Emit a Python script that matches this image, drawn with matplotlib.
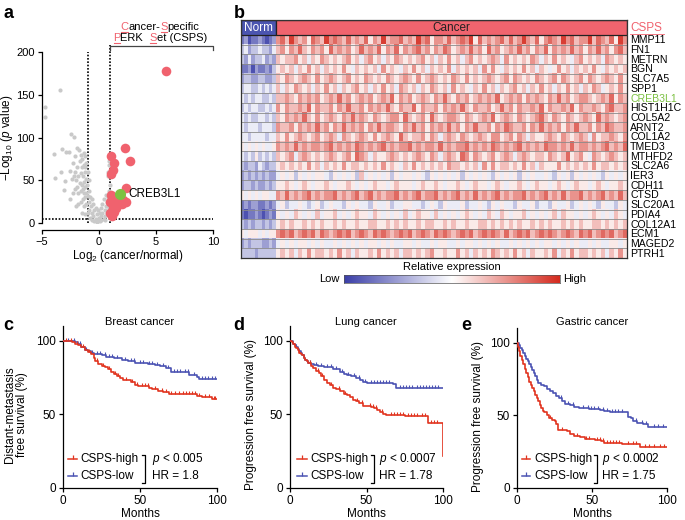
import numpy as np
import matplotlib
matplotlib.use("Agg")
import matplotlib.pyplot as plt
from matplotlib.colors import LinearSegmentedColormap
from matplotlib.lines import Line2D
from matplotlib.patches import Rectangle

plt.rcParams['font.family'] = ['Liberation Sans', 'DejaVu Sans']
plt.rcParams['mathtext.fontset'] = 'custom'
plt.rcParams['mathtext.rm'] = 'Liberation Sans'
plt.rcParams['mathtext.it'] = 'Liberation Sans:italic'
plt.rcParams['font.size'] = 8.5
plt.rcParams['axes.linewidth'] = 0.9
plt.rcParams['xtick.major.size'] = 3
plt.rcParams['ytick.major.size'] = 3
plt.rcParams['xtick.major.width'] = 0.9
plt.rcParams['ytick.major.width'] = 0.9

# ---------------- panel a: volcano ----------------
gray_x = [-4.77, -4.71, -3.42, -3.97, -3.22, -2.87, -2.43, -2.19, -2.6, -3.35, -3.83, -2.95,
          -3.05, -2.57, -2.3, -2.1, -1.9, -1.75, -1.6, -1.45, -1.3, -1.2, -1.15, -1.35, -1.5,
          -1.7, -1.9, -2.1, -2.2, -2.4, -2.0, -1.8, -1.6, -1.4, -1.25, -1.1, -1.3, -1.5, -1.7,
          -1.9, -2.1, -2.3, -1.8, -1.6, -1.4, -1.2, -1.05, -0.9, -1.0, -1.2, -1.4, -1.6, -1.8,
          -2.0, -2.5, -1.3, -1.1, -0.9, -0.8, -0.7, -0.85, -1.0, -1.2, -1.5, -0.6, -0.5, -0.4,
          -0.3, -0.2, -0.1, 0.0, 0.1, -0.6, -0.8, -0.3, -0.5, -0.65, 0.2, 0.3, 0.4, 0.5, 0.6,
          0.7, 0.8, 0.9, 0.7, 0.85, 0.5, 0.3, 0.95, 0.6, 0.4, 0.2, 0.1, -0.1, 1.0, 0.9, -1.1,
          -1.3, -0.9, -1.0, -1.2, 0.8, 0.85, 0.75, 0.9, -0.2, 0.15, -0.45, 0.55]
gray_y = [136, 124, 156, 81, 86, 83, 104, 101, 83, 60, 53, 49,
          39, 61, 70, 78, 88, 85, 80, 75, 82, 78, 70, 68, 65,
          72, 66, 60, 55, 52, 50, 55, 58, 55, 60, 52, 48, 45, 47,
          42, 40, 35, 35, 38, 40, 42, 45, 38, 32, 30, 28, 25, 22,
          20, 28, 20, 22, 25, 30, 20, 15, 12, 10, 12, 12, 8, 15,
          5, 10, 3, 6, 2, 4, 6, 18, 22, 28, 8, 12, 5, 15, 20,
          25, 30, 38, 12, 18, 3, 22, 45, 33, 28, 18, 12, 15, 20, 10, 35,
          35, 50, 60, 65, 60, 68, 55, 72, 1, 4, 2, 8]
red_x = [5.85, 2.25, 2.69, 1.02, 1.29, 1.23, 1.02, 2.34, 1.08, 0.95, 1.38, 1.67, 1.23,
         0.95, 1.23, 2.1, 2.0, 1.5, 1.1, 1.35, 1.8, 2.4]
red_y = [178, 87.5, 73, 78, 70, 61.5, 57.5, 41, 33, 25, 27, 22.5, 17.5,
         11.5, 21.4, 27, 22, 18, 8, 13, 26, 24]
green_x = [1.81]
green_y = [34]

# ---------------- panel b: heatmap ----------------
genes = ['MMP11', 'FN1', 'METRN', 'BGN', 'SLC7A5', 'SPP1', 'CREB3L1', 'HIST1H1C', 'COL5A2',
         'ARNT2', 'COL1A2', 'TMED3', 'MTHFD2', 'SLC2A6', 'IER3', 'CDH11', 'CTSD', 'SLC20A1',
         'PDIA4', 'COL12A1', 'ECM1', 'MAGED2', 'PTRH1']
# levels 0 (low, blue) .. 9 (high, red); one string per gene
norm_levels = ['1201121012', '3423343324', '3242334232', '1120211213', '2332233223',
               '3443343434', '4343443343', '3434433434', '4343344343', '4344434443',
               '4434444344', '5454545445', '4343534343', '3233243233', '2323232322',
               '2332322323', '5454545544', '1212211212', '1011210121', '3232332323',
               '5455545455', '2323332232', '3333233333']
cancer_levels = [
    '7869767587 6978768676 8576967786 7697857768 6787958676 7868679768 5787697867 7968768597',
    '6757686576 7586767568 6768576857 6786757687 5676867586 7567686757 6857676867 5768675786',
    '6566756465 7656567564 6756465765 6567564657 5646756567 6475656576 4657565467 5656476565',
    '5656465756 4656575465 6564756546 5756465657 4656564757 5465657564 6545756465 6575465656',
    '6576567657 5676567565 7656576567 6575676565 7657565676 5675765657 6567576567 5765676575',
    '6465765646 5756465675 6465756476 5646576564 7565465756 4656756465 7564657564 6576456575',
    '6676576767 5676867567 6756768576 7567657686 5767567676 8567675767 6576867567 7656768576',
    '7576676857 6675768667 5767686576 6857667576 7686576675 6867576676 8576676857 6676578667',
    '6576768657 5676576867 6576567758 6567586567 7657656768 5676576567 8657657656 7658676567',
    '7667576768 6757686767 5768677657 6867576768 6757686675 7687667576 8676757686 6757687667',
    '6575676567 5676476567 6575676586 5667576467 6576567657 7567576465 5676576567 6475667657',
    '7676867677 6786767687 6767867677 8676776867 6778676768 7676786767 6877676867 7676786768',
    '6567467656 5676567587 6465567656 5676576467 6587576567 5676467656 6576568567 5476567656',
    '5656565756 4656575665 6565756546 5756565657 6656564757 5665657564 6555756565 6575665656',
    '4545354545 5435454536 4545453545 5454354545 4535454543 5454535454 4543545354 5454354545',
    '5565456545 5654556545 4565545655 5456556545 5654565545 6545565456 5545654565 5456545565',
    '7686767867 6778676786 7867677867 6786778676 7867686767 8676778676 7867686778 6767867686',
    '4534454345 3454435454 4354453445 5443454354 4453445435 4544354453 4435445345 4543544354',
    '5454654546 4556454565 5465454546 4565546454 5456545465 4654556454 5456465545 4565454654',
    '5656556565 6556565565 5665565656 5565665565 6556556656 5656565565 6565565656 5566565656',
    '7878678786 8767878678 7687876787 8678768787 6787867878 7686787867 8787678768 7867878678',
    '4545455454 5445454545 4554545445 5454454554 4545545454 5445454545 4554545454 4545445545',
    '5656465756 6565756465 5657565646 6565675565 5756465657 6565756465 5657465756 6565646575',
]

# ---------------- panels c-e: Kaplan-Meier ----------------
breast_high_t = [0, 4, 6, 8, 10, 12, 14, 16, 18, 20, 21, 23, 25, 27, 29, 31, 33, 35, 37, 39,
                 44, 47, 49, 56, 58, 62, 65, 69, 72, 87, 90, 97, 100]
breast_high_s = [100, 99.5, 99, 98, 97, 95.5, 94, 92.5, 91, 88, 86, 84, 83, 82, 80.5, 79, 77.5,
                 76, 74.5, 73, 72, 70, 69, 68, 67, 66, 65, 64, 63.5, 62.5, 62, 60.5, 60.5]
breast_low_t = [0, 8, 10, 12, 14, 16, 18, 20, 25, 28, 33, 38, 42, 47, 55, 60, 63, 67, 70, 77,
                82, 87, 88, 100]
breast_low_s = [100, 99, 97.5, 96, 94, 93, 92, 91, 90, 89, 88, 87, 86, 85, 84.5, 83.5, 83, 81.5,
                79, 78.5, 77, 75.5, 74, 74]
lung_high_t = [0, 1, 2, 3, 4, 5, 6, 7, 8, 9, 10, 11, 12, 14, 15, 17, 19, 20, 22, 24, 26, 28, 30,
               33, 35, 37, 39, 41, 43, 45, 48, 50, 53, 55, 57, 59, 61, 63, 75, 90, 99.6, 100]
lung_high_s = [100, 99, 97.5, 96, 95, 93.5, 92, 91, 90, 88.5, 87, 86, 85, 83, 81.5, 79.5, 78, 76,
               73, 71.5, 70, 68, 67, 66, 64, 63, 61.5, 60, 59, 57.5, 56, 55.5, 55, 54, 53, 51.5,
               50, 49.5, 49, 44, 44, 22]
lung_low_t = [0, 1, 2, 3, 4, 5, 6, 7, 8, 9, 10, 11, 12, 14, 16, 18, 22, 25, 28, 31, 33, 35, 37,
              40, 43, 46, 48, 50, 52, 67, 69, 100]
lung_low_s = [100, 99.5, 98, 97, 96, 94.5, 93, 91.5, 90, 88.5, 87, 86, 85, 84, 83.5, 83, 82.5,
              82, 81, 80.5, 79, 77.5, 77, 76, 75, 73.5, 72, 71.5, 71, 70.5, 68, 68]
gastric_high_t = [0, 0.5, 1, 2, 3, 4, 5, 6, 7, 8, 9, 10, 11, 12, 13, 14, 15, 16, 17, 18, 20, 21,
                  23, 25, 26, 27, 33, 35, 38, 42, 45, 50, 52, 56, 58, 70, 72, 82, 100]
gastric_high_s = [100, 97, 94, 91, 88, 85, 82, 79, 76, 73, 71, 69, 67, 64, 62, 60, 57, 55, 53, 52,
                  50, 48, 47, 46, 44, 40, 39, 37, 36, 35, 34, 33.5, 33, 32, 31, 30.5, 30, 28, 28]
gastric_low_t = [0, 1, 2, 3, 4, 5, 6, 7, 8, 9, 10, 11, 12, 13, 14, 16, 18, 20, 22, 24, 26, 28, 30,
                 32, 35, 38, 41, 48, 52, 55, 58, 62, 68, 74, 76, 77, 80, 84, 87, 100]
gastric_low_s = [100, 98, 96, 95, 93, 91, 89, 87, 85, 83, 81, 79, 77, 74, 72, 71, 70, 68, 67, 65,
                 63, 62, 60, 58, 57, 56, 55, 54.5, 54, 53.5, 53, 52.5, 52, 49, 48, 46, 45, 44, 42, 42]
breast_high_c = [2, 5, 9, 13, 17, 22, 26, 30, 34, 36, 41, 45, 48, 51, 53, 55, 60, 64, 67, 70, 73,
                 75, 78, 80, 82, 84, 86, 88, 92, 95, 98, 99]
breast_low_c = [3, 7, 11, 15, 19, 22, 24, 27, 30, 32, 35, 40, 44, 46, 50, 52, 56, 58, 61, 65, 68,
                72, 74, 76, 79, 81, 85, 90, 92, 94, 97, 99]
lung_high_c = [3, 6, 13, 18, 21, 27, 32, 36, 44, 47, 52, 54, 56, 60, 66, 68, 70, 72, 74, 77, 79,
               81, 83, 86, 88, 92, 94, 96]
lung_low_c = [4, 9, 13, 17, 20, 24, 27, 30, 34, 38, 42, 45, 49, 53, 55, 57, 59, 61, 63, 65, 72, 74,
              76, 78, 80, 83, 85, 87, 89, 91, 93, 95, 97]
gastric_high_c = [22, 30, 40, 46, 48, 53, 55, 57, 60, 62, 64, 66, 68, 74, 77, 79, 85, 88, 91, 95, 98]
gastric_low_c = [29, 34, 37, 44, 47, 49, 51, 54, 57, 60, 63, 65, 67, 70, 79, 83, 86, 91, 94, 97]

RED = '#e1341f'
BLUE = '#4b53b3'
PINK = '#f0626e'
GREEN = '#7cc142'

W, H = 685, 520
fig = plt.figure(figsize=(W / 100, H / 100), dpi=100)
renderer = fig.canvas.get_renderer()


def rect(l, t, r, b):
    return [l / W, 1 - b / H, (r - l) / W, (b - t) / H]


def fline(xs, ys, **kw):
    fig.add_artist(Line2D([x / W for x in xs], [1 - y / H for y in ys], **kw))


def text_w(s, size):
    t = fig.text(0, 0, s, fontsize=size)
    w = t.get_window_extent(renderer).width
    t.remove()
    return w


def rich_line(cx, base_y, pieces, size):
    full = ''.join(p for p, c in pieces)
    left = cx - text_w(full, size) / 2
    prefix = ''
    for s, c in pieces:
        x0 = left + (text_w(prefix + s[0], size) - text_w(s[0], size) if prefix else 0)
        fig.text(x0 / W, 1 - base_y / H, s, color=c, fontsize=size, va='baseline')
        if c != 'black':
            fline([x0 + 0.5, x0 + text_w(s, size) - 0.5], [base_y + 2, base_y + 2], color=c, lw=0.8)
        prefix += s


# panel labels
for lab, x, y in [('a', 3, 14), ('b', 234, 14), ('c', 3, 325), ('d', 233, 325), ('e', 461, 325)]:
    fig.text(x / W, 1 - y / H, lab, fontsize=13, fontweight='bold', va='center')

# ---- a ----
ax = fig.add_axes(rect(42, 52, 213, 223))
ax.scatter(gray_x, gray_y, s=9, c='#c9c9c9', lw=0, zorder=2)
ax.scatter(red_x, red_y, s=48, c=PINK, lw=0, zorder=3)
ax.scatter(green_x, green_y, s=64, c=GREEN, lw=0, zorder=4)
dot = (0, (1, 1))
ax.plot([-1, -1], [0, 200], ls=dot, color='k', lw=1.2, zorder=1)
ax.plot([1, 1], [0, 208.5], ls=dot, color='k', lw=1.2, zorder=1, clip_on=False)
ax.plot([-5, 10], [5, 5], ls=dot, color='k', lw=1.2, zorder=1, clip_on=False)
ax.text(2.6, 34, 'CREB3L1', va='center', fontsize=8.5)
ax.set_xlim(-5, 10)
ax.set_ylim(0, 200)
ax.set_xticks([-5, 0, 5, 10])
ax.set_xticklabels(['\u22125', '0', '5', '10'])
ax.set_yticks([0, 50, 100, 150, 200])
ax.spines[['top', 'right']].set_visible(False)
ax.spines['bottom'].set_position(('outward', 5))
ax.set_xlabel('Log$_2$ (cancer/normal)', fontsize=8.5, labelpad=1)
ax.set_ylabel('\u2212Log$_{10}$ ($p$ value)', fontsize=8.5)
ax.yaxis.set_label_coords(-0.155, 0.5)
ax.tick_params(labelsize=8, pad=2)

rich_line(160, 29.5, [('C', PINK), ('ancer-', 'black'), ('S', PINK), ('pecific', 'black')], 8)
rich_line(160, 40.8, [('P', PINK), ('ERK  ', 'black'), ('S', PINK), ('et (CSPS)', 'black')], 8)
fline([110, 110, 213, 213], [50, 45.5, 45.5, 50], color='#444444', lw=0.9)

# ---- b ----
cmap = LinearSegmentedColormap.from_list('expr', ['#3b3fa8', '#ffffff', '#d42a1e'])
hx0, hx1, hxn = 241, 627, 276
axh = fig.add_axes(rect(hx0, 20, hx1, 258))
xn = (hxn - hx0) / (hx1 - hx0)
n = len(genes)
for i in range(n):
    nv = np.array([int(c) for c in norm_levels[i]])
    cv = np.array([int(c) for c in cancer_levels[i].replace(' ', '')])
    axh.imshow(nv[None, :], cmap=cmap, vmin=-0.5, vmax=9.5, extent=(0, xn, i + 1, i),
               aspect='auto', interpolation='nearest')
    axh.imshow(cv[None, :], cmap=cmap, vmin=-0.5, vmax=9.5, extent=(xn, 1, i + 1, i),
               aspect='auto', interpolation='nearest')
axh.hlines(np.arange(1, n), 0, 1, color='#8a8a8a', lw=0.6)
hdr = -1.55
axh.add_patch(Rectangle((0, hdr), xn, -hdr, facecolor='#4b55b0', edgecolor='#222222', lw=0.9))
axh.add_patch(Rectangle((xn, hdr), 1 - xn, -hdr, facecolor='#f0646e', edgecolor='#222222', lw=0.9))
axh.text(xn / 2, hdr / 2, 'Norm', color='white', ha='center', va='center', fontsize=8.5)
axh.text((xn + 1) / 2, hdr / 2, 'Cancer', color='#222222', ha='center', va='center', fontsize=8.5)
axh.set_xlim(0, 1)
axh.set_ylim(n, hdr)
axh.set_xticks([])
axh.set_yticks([])
for sp in axh.spines.values():
    sp.set_color('#333333')
    sp.set_linewidth(0.9)
ytr = axh.get_yaxis_transform()
gene_font = ['Liberation Sans Narrow', 'DejaVu Sans Condensed', 'Liberation Sans']
for i, g in enumerate(genes):
    axh.text(1.008, i + 0.55, g, transform=ytr, va='center', fontsize=7.6, family=gene_font,
             color=GREEN if g == 'CREB3L1' else 'black')
axh.text(1.008, hdr / 2, 'CSPS', transform=ytr, va='center', fontsize=8.5, family=gene_font,
         color=PINK)
fline([630, 664], [33.5, 33.5], color=PINK, lw=0.6)

axc = fig.add_axes(rect(344, 275, 560, 283))
axc.imshow(np.linspace(0, 1, 256)[None, :], cmap=cmap, aspect='auto')
axc.set_xticks([])
axc.set_yticks([])
for sp in axc.spines.values():
    sp.set_linewidth(0.5)
    sp.set_color('#555555')
fig.text(452 / W, 1 - 267 / H, 'Relative expression', ha='center', va='center', fontsize=8)
fig.text(340 / W, 1 - 279 / H, 'Low', ha='right', va='center', fontsize=8)
fig.text(563 / W, 1 - 279 / H, 'High', ha='left', va='center', fontsize=8)


# ---- c-e ----
def surv_at(ts, ss, t):
    idx = np.searchsorted(ts, t, side='right') - 1
    return np.asarray(ss)[idx]


panels = [
    dict(box=(63, 326, 217, 488), title='Breast cancer', tx=140,
         ylabel='Distant-metastasis\nfree survival (%)', ylx=16,
         high=(breast_high_t, breast_high_s, breast_high_c),
         low=(breast_low_t, breast_low_s, breast_low_c),
         p='$p$ < 0.005', hr='HR = 1.8', leg=(3.2, 9.2, 11.5, 53.2, 58)),
    dict(box=(290, 326, 443, 488), title='Lung cancer', tx=366,
         ylabel='Progression free survival (%)', ylx=251,
         high=(lung_high_t, lung_high_s, lung_high_c),
         low=(lung_low_t, lung_low_s, lung_low_c),
         p='$p$ < 0.0007', hr='HR = 1.78', leg=(4.6, 11, 13, 54.9, 58)),
    dict(box=(517, 328, 667, 488), title='Gastric cancer', tx=592,
         ylabel='Progression free survival (%)', ylx=478,
         high=(gastric_high_t, gastric_high_s, gastric_high_c),
         low=(gastric_low_t, gastric_low_s, gastric_low_c),
         p='$p$ < 0.0002', hr='HR = 1.75', leg=(3.3, 8.7, 11.3, 53.3, 56.7)),
]

for pn in panels:
    l, t, r, b = pn['box']
    a = fig.add_axes(rect(l, t, r, b))
    for (ts, ss, cs), col in [(pn['low'], BLUE), (pn['high'], RED)]:
        a.plot(ts, ss, drawstyle='steps-post', color=col, lw=1.2, zorder=3)
        a.plot(cs, surv_at(ts, ss, cs), ls='none', marker=2, ms=2.5, mew=0.8, color=col, zorder=3)
    x0, x1, xt, xb, xp = pn['leg']
    for yv, col, lab, txt in [(20, RED, 'CSPS-high', pn['p']), (8.3, BLUE, 'CSPS-low', pn['hr'])]:
        a.plot([x0, x1], [yv, yv], color=col, lw=1.1)
        a.plot([(x0 + x1) / 2], [yv], marker=2, ms=3, mew=0.9, color=col)
        a.text(xt, yv, lab, va='center', fontsize=8.5)
        a.text(xp, yv, txt, va='center', fontsize=8.5)
    a.plot([xb - 1.8, xb, xb, xb - 1.8], [22.5, 22.5, 3.5, 3.5], color='k', lw=0.9)
    a.set_xlim(0, 100)
    a.set_ylim(0, 110)
    a.set_xticks([0, 50, 100])
    a.set_yticks([0, 50, 100])
    a.spines[['top', 'right']].set_visible(False)
    a.tick_params(labelsize=8.5, pad=2)
    a.set_xlabel('Months', fontsize=8.5, labelpad=1)
    fig.text(pn['tx'] / W, 1 - 322 / H, pn['title'], ha='center', va='center', fontsize=8)
    fig.text(pn['ylx'] / W, 1 - ((t + b) / 2 + 8) / H, pn['ylabel'], rotation=90, ha='center',
             va='center', fontsize=8.5, multialignment='center', linespacing=1.1)

fig.savefig('out.png', dpi=100)
